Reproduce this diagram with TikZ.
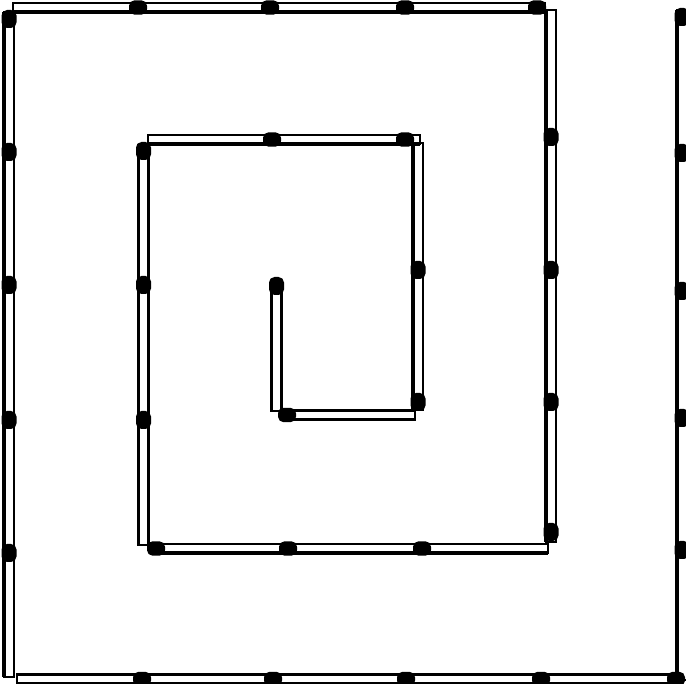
\documentclass[tikz,border=0pt]{standalone}
\begin{document}
\begin{tikzpicture}[x=1pt,y=-1pt,
  shaft/.style={draw=black,fill=white,line width=2.6pt},
  heavy/.style={draw=black,line width=3.6pt},
  headv/.style={fill=black,rounded corners=5.5pt},
  headh/.style={fill=black,rounded corners=5.5pt}]
\useasboundingbox (0,0) rectangle (686,684);
\clip (0,0) rectangle (686,684);
\newcommand{\mvshaft}[3]{\draw[shaft] (#1-4.9,#2) rectangle (#1+4.9,#3);\draw[heavy] (#1-4.9,#2) -- (#1-4.9,#3);}
\newcommand{\mhshaft}[3]{\draw[shaft] (#2,#1-4.6) rectangle (#3,#1+4.6);\draw[heavy] (#2,#1+4.6) -- (#3,#1+4.6);}
\newcommand{\mvhead}[2]{\fill[headv] (#1-7.5,#2-9) rectangle (#1+7.5,#2+9);}
\newcommand{\mhhead}[2]{\fill[headh] (#1-9,#2-7.2) rectangle (#1+9,#2+7.2);}
% inner spiral
\mvshaft{276.5}{283}{411}
\mhshaft{415}{281}{415}
\mvshaft{418}{143}{410}
\mhshaft{139.5}{148}{420}
\mvshaft{143.5}{145}{545}
\mhshaft{548.5}{150}{548}
\mvshaft{551}{10}{542}
% outer ring
\mhshaft{7.5}{13}{545}
\mvshaft{9}{12}{677}
\mhshaft{679}{17}{680}
\mvshaft{682}{10}{680}
% heads
\mvhead{276.5}{286}
\mhhead{287}{415}
\foreach \y in {270,402} {\mvhead{418}{\y}}
\foreach \x in {272,405} {\mhhead{\x}{139.5}}
\foreach \y in {151,285,420} {\mvhead{143.5}{\y}}
\foreach \x in {156,288,422} {\mhhead{\x}{548.5}}
\foreach \y in {137,270,402,532} {\mvhead{551}{\y}}
\foreach \x in {138,270,405,537} {\mhhead{\x}{7.5}}
\foreach \y in {19,152,285,420,553} {\mvhead{9}{\y}}
\foreach \x in {142,273,406,541,676} {\mhhead{\x}{679}}
\foreach \y in {17,153,291,418,550} {\mvhead{682}{\y}}
\end{tikzpicture}
\end{document}
